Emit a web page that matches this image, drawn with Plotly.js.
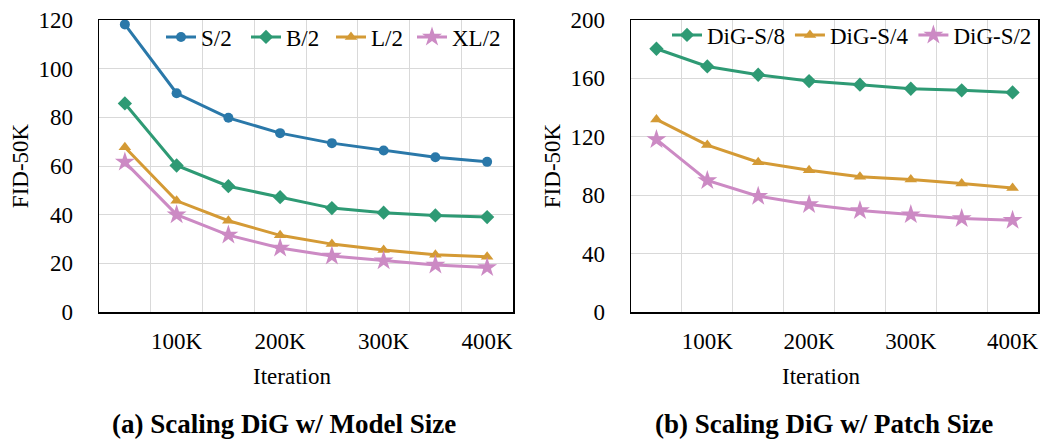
<!DOCTYPE html>
<html>
<head>
<meta charset="utf-8">
<script src="https://cdn.plot.ly/plotly-3.0.1.min.js"></script>
<style>html,body{margin:0;padding:0;background:#fff;} #chart{width:1051px;height:439px;}</style>
</head>
<body>
<div id="chart"></div>
<script>
// Iterations (K)
const iterations = [50, 100, 150, 200, 250, 300, 350, 400];
const tickVals = [100, 200, 300, 400];
const tickText = ['100K', '200K', '300K', '400K'];

// (a) Scaling DiG w/ Model Size
const modelS2 = [118.2, 89.9, 79.8, 73.5, 69.4, 66.4, 63.6, 61.7];
const modelB2 = [85.7, 60.2, 51.7, 47.2, 42.7, 40.8, 39.7, 39.0];
const modelL2 = [67.7, 45.7, 37.5, 31.5, 27.9, 25.5, 23.5, 22.7];
const modelXL2 = [61.6, 40.0, 31.6, 26.3, 23.0, 21.1, 19.3, 18.3];

// (b) Scaling DiG w/ Patch Size
const patchS8 = [180.3, 168.2, 162.5, 158.2, 155.7, 152.9, 151.8, 150.4];
const patchS4 = [131.9, 114.3, 102.6, 97.1, 92.6, 90.7, 88.0, 85.0];
const patchS2 = [118.2, 90.1, 79.3, 73.6, 69.5, 66.7, 64.0, 62.9];

const BLUE = '#2A78A9', GREEN = '#2E9A74', GOLD = '#D49A35', PINK = '#CC8AC4';
const FONT = 'Liberation Serif';

function tr(name, y, color, symbol, size, xa, ya, legend) {
  return {
    type: 'scatter', mode: 'lines+markers', name: name,
    x: iterations, y: y, xaxis: xa, yaxis: ya, legend: legend,
    line: {color: color, width: 3},
    marker: {color: color, symbol: symbol, size: size}
  };
}

const data = [
  tr('S/2', modelS2, BLUE, 'circle', 10, 'x', 'y', 'legend'),
  tr('B/2', modelB2, GREEN, 'diamond', 11, 'x', 'y', 'legend'),
  tr('L/2', modelL2, GOLD, 'triangle-up', 11, 'x', 'y', 'legend'),
  tr('XL/2', modelXL2, PINK, 'star', 15, 'x', 'y', 'legend3'),
  tr('DiG-S/8', patchS8, GREEN, 'diamond', 11, 'x2', 'y2', 'legend2'),
  tr('DiG-S/4', patchS4, GOLD, 'triangle-up', 11, 'x2', 'y2', 'legend2'),
  tr('DiG-S/2', patchS2, PINK, 'star', 15, 'x2', 'y2', 'legend2')
];

function xaxis(domain, anchor) {
  return {
    domain: domain, anchor: anchor, range: [25, 425],
    tickmode: 'array', tickvals: tickVals, ticktext: tickText,
    showgrid: false, zeroline: false,
    showline: true, mirror: true, linecolor: '#000', linewidth: 1.5,
    ticks: '', ticklabelstandoff: 8,
    minor: {tickmode: 'linear', tick0: 25, dtick: 50, showgrid: true, gridcolor: '#D9D9D9', gridwidth: 1, ticks: ''},
    tickfont: {family: FONT, size: 23, color: '#000'},
    automargin: false
  };
}
function yaxis(domain, anchor, max, dtick) {
  return {
    domain: domain, anchor: anchor, range: [0, max], dtick: dtick,
    showgrid: true, gridcolor: '#D9D9D9', gridwidth: 1, zeroline: false,
    showline: true, mirror: true, linecolor: '#000', linewidth: 1.5,
    ticks: '', ticklabelstandoff: 20,
    tickfont: {family: FONT, size: 23, color: '#000'},
    title: {text: 'FID-50K', font: {family: FONT, size: 23, color: '#000'}, standoff: 3},
    automargin: false
  };
}

function note(text, x, y, size) {
  return {text: text, xref: 'paper', yref: 'paper', x: x / 1051, y: 1 - y / 439,
          xanchor: 'center', yanchor: 'middle', showarrow: false,
          font: {family: FONT, size: size, color: '#000'}};
}

function legendAt(x, y, extra) {
  return Object.assign({orientation: 'h', x: x / 1051, y: 1 - y / 439, xanchor: 'left', yanchor: 'middle',
           bgcolor: 'rgba(0,0,0,0)', font: {family: FONT, size: 23, color: '#000'}, itemwidth: 30}, extra || {});
}

const yDom = [1 - 312/439, 1 - 20/439];
const layout = {
  width: 1051, height: 439,
  margin: {l: 0, r: 0, t: 0, b: 0},
  paper_bgcolor: '#fff', plot_bgcolor: '#fff',
  font: {family: FONT, size: 23, color: '#000'},
  xaxis: xaxis([99/1051, 513/1051], 'y'),
  yaxis: yaxis(yDom, 'x', 120, 20),
  xaxis2: xaxis([631/1051, 1038/1051], 'y2'),
  yaxis2: yaxis(yDom, 'x2', 200, 40),
  legend: legendAt(161, 37, {entrywidth: 40, entrywidthmode: 'pixels'}),
  legend3: legendAt(412, 37),
  legend2: legendAt(667, 35),
  annotations: [
    note('Iteration', 292, 376, 23),
    note('Iteration', 821, 376, 23),
    note('<b>(a) Scaling DiG w/ Model Size</b>', 284, 424, 27),
    note('<b>(b) Scaling DiG w/ Patch Size</b>', 824, 424, 27)
  ]
};

Plotly.newPlot('chart', data, layout, {displayModeBar: false, staticPlot: true});
</script>
</body>
</html>
